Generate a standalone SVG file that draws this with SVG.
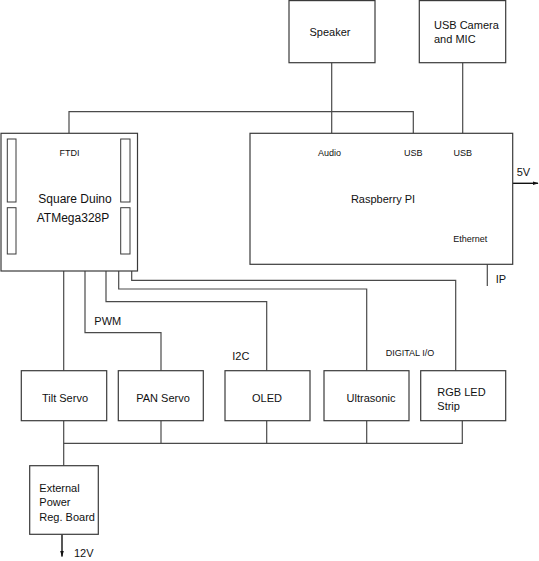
<svg xmlns="http://www.w3.org/2000/svg" width="539" height="561" viewBox="0 0 539 561">
<defs>
<style>
.box{fill:#fff;stroke:#3a3a3a;stroke-width:1.2}
.pin{fill:#fff;stroke:#3a3a3a;stroke-width:1}
.wire{fill:none;stroke:#4a4a4a;stroke-width:1.2}
.arrow{fill:none;stroke:#111;stroke-width:1.4}
text{font-family:"Liberation Sans",Arial,sans-serif;font-size:11px;fill:#111}
.sm{font-size:9px}
.lg{font-size:12px}
.mid{text-anchor:middle}
</style>
<marker id="ah" viewBox="0 0 10 10" refX="9" refY="5" markerWidth="6" markerHeight="6" orient="auto" markerUnits="userSpaceOnUse">
<path d="M0,2 L10,5 L0,8 Z" fill="#111"/>
</marker>
</defs>
<rect width="539" height="561" fill="#fff"/>

<g id="connectors">
<path class="wire" d="M69,133.3 V111.7 H413.3 V133.3"/>
<path class="wire" d="M331.7,62.7 V133.3"/>
<path class="wire" d="M462.7,62.7 V133.3"/>
<path class="wire" d="M487.3,251 V286"/>
<path class="arrow" d="M512.7,183.3 H538" marker-end="url(#ah)"/>
<path class="wire" d="M63.7,271 V370.7"/>
<path class="wire" d="M85,271 V332.7 H161 V370.7"/>
<path class="wire" d="M106,271 V301.7 H266.7 V370.7"/>
<path class="wire" d="M118.7,271 V289 H366.7 V370.7"/>
<path class="wire" d="M131.7,271 V280.3 H455.7 V370.7"/>
<path class="wire" d="M63.7,420.7 V465.7"/>
<path class="wire" d="M161,420.7 V443.3"/>
<path class="wire" d="M266.7,420.7 V443.3"/>
<path class="wire" d="M366.7,420.7 V443.3"/>
<path class="wire" d="M462.3,420.7 V443.3 H63.7"/>
<path class="arrow" d="M62,534.3 V556.5" marker-end="url(#ah)"/>
</g>

<g id="arduino">
<rect class="box" x="1" y="133.3" width="136.5" height="137.7"/>
<rect class="pin" x="7.3" y="139" width="8.7" height="63"/>
<rect class="pin" x="7.3" y="207.7" width="8.7" height="46.3"/>
<rect class="pin" x="120.7" y="139" width="9.3" height="63"/>
<rect class="pin" x="120.7" y="207.7" width="9.3" height="46.3"/>
<text class="sm mid" x="69.5" y="155.7">FTDI</text>
<text class="lg mid" x="75" y="202.7">Square Duino</text>
<text class="lg mid" x="73" y="221.7">ATMega328P</text>
</g>

<g id="speaker">
<rect class="box" x="289" y="0.6" width="86" height="62.1"/>
<text class="mid" x="330" y="36">Speaker</text>
</g>

<g id="camera">
<rect class="box" x="419.3" y="0.6" width="86.4" height="62.1"/>
<text x="434" y="28.5">USB Camera</text>
<text x="434" y="43">and MIC</text>
</g>

<g id="raspberry">
<rect class="box" x="250" y="133.3" width="262.7" height="131"/>
<text class="sm mid" x="329.5" y="156">Audio</text>
<text class="sm mid" x="413.3" y="156">USB</text>
<text class="sm mid" x="462.7" y="156">USB</text>
<text class="mid" x="383" y="203">Raspberry PI</text>
<text class="sm mid" x="470.3" y="242">Ethernet</text>
<text x="516.7" y="176">5V</text>
<text x="495.7" y="283">IP</text>
</g>

<g id="labels">
<text x="94.3" y="325">PWM</text>
<text x="232.3" y="360">I2C</text>
<text class="sm" x="385.7" y="356">DIGITAL I/O</text>
</g>

<g id="tilt">
<rect class="box" x="21.3" y="370.7" width="85.4" height="50"/>
<text class="mid" x="65" y="402">Tilt Servo</text>
</g>
<g id="pan">
<rect class="box" x="118.3" y="370.7" width="85" height="50"/>
<text class="mid" x="163" y="402">PAN Servo</text>
</g>
<g id="oled">
<rect class="box" x="225" y="370.7" width="85" height="50"/>
<text class="mid" x="267" y="402">OLED</text>
</g>
<g id="ultrasonic">
<rect class="box" x="324" y="370.7" width="85" height="50"/>
<text class="mid" x="371" y="402">Ultrasonic</text>
</g>
<g id="rgb">
<rect class="box" x="420.7" y="370.7" width="85" height="50"/>
<text x="437.3" y="396">RGB LED</text>
<text x="437.3" y="409.5">Strip</text>
</g>

<g id="power">
<rect class="box" x="29.7" y="465.7" width="68.6" height="68.6"/>
<text x="39.3" y="491.7">External</text>
<text x="39.3" y="506">Power</text>
<text x="39.3" y="520.5">Reg. Board</text>
<text x="74" y="556.5">12V</text>
</g>
</svg>
